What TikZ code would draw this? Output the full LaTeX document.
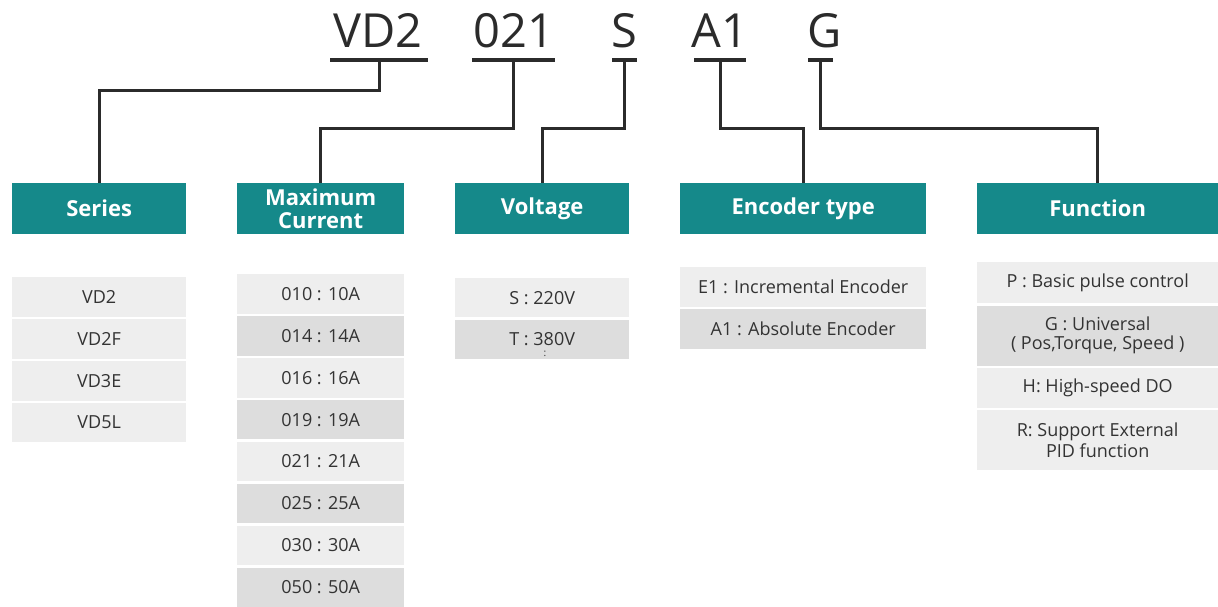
\documentclass[tikz,border=0pt]{standalone}
\usepackage{fontspec}
\setmainfont{Open Sans}
\usetikzlibrary{positioning, calc}
\definecolor{modelteal}{HTML}{15898A}
\definecolor{modelink}{HTML}{2B2B2B}
\definecolor{modeltext}{HTML}{333333}
\definecolor{rowlight}{HTML}{EEEEEE}
\definecolor{rowdark}{HTML}{DDDDDD}
\tikzset{
  code/.style={font=\fontsize{47}{50}\selectfont, text=modelink, inner sep=0pt, anchor=base},
  bar/.style={rectangle, fill=modelink, minimum height=4pt, inner sep=0pt},
  head/.style={rectangle, fill=modelteal, text=white, align=center, anchor=north west,
               minimum height=51pt, inner sep=0pt, font=\fontsize{22}{23}\selectfont\bfseries},
  row/.style={rectangle, fill=rowlight, text=modeltext, align=center, inner sep=0pt,
              font=\fontsize{18}{20}\selectfont},
  rowd/.style={row, fill=rowdark},
  link/.style={draw=modelink, line width=3pt},
}
\begin{document}
\begin{tikzpicture}[x=1pt, y=-1pt]
  \useasboundingbox (0,0) rectangle (1218,606);
  % model code along the top
  \node[code] (tVD) at (378,47) {VD2};
  \node[code] (t021) at (514,47) {021};
  \node[code] (tS) at (624,47) {S};
  \node[code] (tA1) at (720,47) {A1};
  \node[code] (tG) at (825,47) {G};
  \node[bar, minimum width=98pt] (uVD) at (379,60) {};
  \node[bar, minimum width=83pt] (u021) at (513,60) {};
  \node[bar, minimum width=25pt] (uS) at (624,60) {};
  \node[bar, minimum width=52pt] (uA1) at (720,60) {};
  \node[bar, minimum width=25pt] (uG) at (820,60) {};

  % heading boxes
  \node[head, minimum width=174pt] (series) at (12,183) {Series};
  \node[head, minimum width=167pt] (current) at (237,183) {Maximum\\Current};
  \node[head, minimum width=174pt] (voltage) at (455,183) {Voltage};
  \node[head, minimum width=246pt] (encoder) at (680,183) {Encoder type};
  \node[head, minimum width=241pt] (func) at (977,183) {Function};

  % connectors
  \draw[link] (uVD.south) -- ++(0,28) -| (series.north);
  \draw[link] (u021.south) -- ++(0,66) -| (current.north);
  \draw[link] (uS.south) -- ++(0,66) -| (voltage.north);
  \draw[link] (uA1.south) -- ++(0,66) -| (encoder.north);
  \draw[link] (uG.south) -- ++(0,66) -| (func.north);

  % series
  \node[row, minimum width=174pt, minimum height=39.5pt, anchor=north west] (s1) at (12,277) {VD2};
  \node[row, minimum width=174pt, minimum height=39.5pt, below=2pt of s1] (s2) {VD2F};
  \node[row, minimum width=174pt, minimum height=39.5pt, below=2pt of s2] (s3) {VD3E};
  \node[row, minimum width=174pt, minimum height=39.5pt, below=2pt of s3] (s4) {VD5L};

  % maximum current
  \node[row, minimum width=167pt, minimum height=39.5pt, anchor=north west] (c1) at (237,274) {010 : 10A};
  \node[rowd, minimum width=167pt, minimum height=39.5pt, below=2pt of c1] (c2) {014 : 14A};
  \node[row, minimum width=167pt, minimum height=39.5pt, below=2pt of c2] (c3) {016 : 16A};
  \node[rowd, minimum width=167pt, minimum height=39.5pt, below=2pt of c3] (c4) {019 : 19A};
  \node[row, minimum width=167pt, minimum height=39.5pt, below=2pt of c4] (c5) {021 : 21A};
  \node[rowd, minimum width=167pt, minimum height=39.5pt, below=2pt of c5] (c6) {025 : 25A};
  \node[row, minimum width=167pt, minimum height=39.5pt, below=2pt of c6] (c7) {030 : 30A};
  \node[rowd, minimum width=167pt, minimum height=39.5pt, below=2pt of c7] (c8) {050 : 50A};

  % voltage
  \node[row, minimum width=174pt, minimum height=39pt, anchor=north west] (v1) at (455,278) {S : 220V};
  \node[rowd, minimum width=174pt, minimum height=39pt, below=2pt of v1] (v2) {T : 380V};
  \node[font=\fontsize{10}{10}\selectfont, text=modeltext, inner sep=0pt] (vdots) at (545,354) {:};

  % encoder type
  \node[row, minimum width=246pt, minimum height=39.5pt, anchor=north west] (e1) at (680,267) {E1 : Incremental Encoder};
  \node[rowd, minimum width=246pt, minimum height=39.5pt, below=2pt of e1] (e2) {A1 : Absolute Encoder};

  % function
  \node[row, minimum width=241pt, minimum height=41pt, anchor=north west] (f1) at (977,262) {P : Basic pulse control};
  \node[rowd, minimum width=241pt, minimum height=60pt, below=2pt of f1, font=\fontsize{18}{19}\selectfont] (f2) {G : Universal\\( Pos,Torque, Speed )};
  \node[row, minimum width=241pt, minimum height=40pt, below=2pt of f2] (f3) {H: High-speed DO};
  \node[row, minimum width=241pt, minimum height=60pt, below=2pt of f3, font=\fontsize{18}{21}\selectfont] (f4) {R: Support External\\PID function};
\end{tikzpicture}
\end{document}
